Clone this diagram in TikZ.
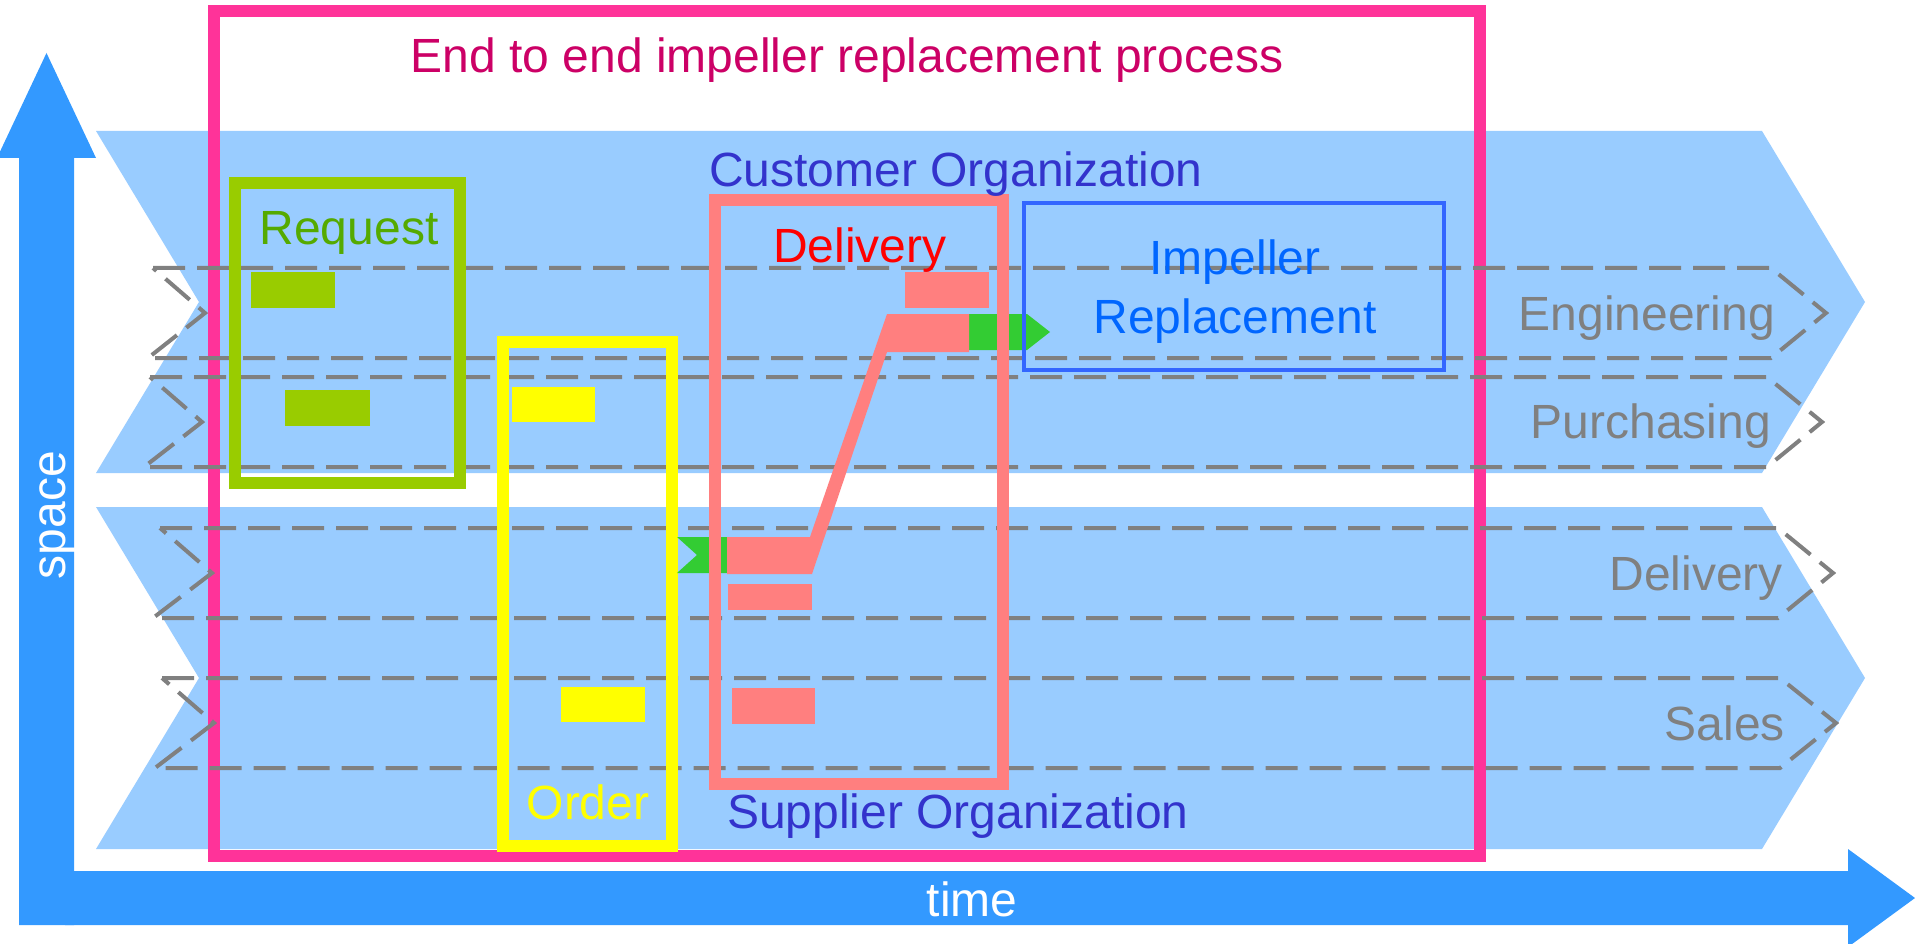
\documentclass[tikz,border=0pt]{standalone}
\usepackage{fontspec}
\setmainfont{Liberation Sans}
\definecolor{bandblue}{HTML}{99CCFF}
\definecolor{arrowblue}{HTML}{3399FF}
\definecolor{pinkframe}{HTML}{FF3399}
\definecolor{titlemag}{HTML}{CC0066}
\definecolor{reqgreen}{HTML}{99CC00}
\definecolor{reqtext}{HTML}{55AA00}
\definecolor{ordyellow}{HTML}{FFFF00}
\definecolor{salmon}{HTML}{FF7F7F}
\definecolor{flowgreen}{HTML}{33CC33}
\definecolor{boxblue}{HTML}{3366FF}
\definecolor{impblue}{HTML}{0066FF}
\definecolor{orgblue}{HTML}{3333CC}
\definecolor{lanegray}{HTML}{808080}
\begin{document}
\begin{tikzpicture}[x=1pt,y=-1pt,
  font=\fontsize{48}{58}\selectfont,
  every node/.style={inner sep=0pt, outer sep=0pt},
  band/.style={fill=bandblue},
  lane/.style={draw=lanegray, line width=4pt, dash pattern=on 32pt off 12pt},
  frame/.style={line width=12pt},
  lbl/.style={anchor=base}]
\useasboundingbox (0,0) rectangle (1915,944);
\fill[white] (0,0) rectangle (1915,944);
% organisation bands
\fill[band] (96,131) -- (1762,131) -- (1865,302) -- (1762,473) -- (96,473) -- (199,302) -- cycle;
\fill[band] (96,507) -- (1762,507) -- (1865,678) -- (1762,849) -- (96,849) -- (199,678) -- cycle;
% axes
\fill[arrowblue] (19,925) -- (19,158) -- (-3,158) -- (46.5,53) -- (96,158) -- (74,158) -- (74,925) -- cycle;
\fill[arrowblue] (65,871) -- (1848,871) -- (1848,849) -- (1915,898) -- (1848,947) -- (1848,925) -- (65,925) -- cycle;
% process frame
\draw[frame, pinkframe] (214,11) rectangle (1480,856);
% lanes
\draw[lane] (153,268) -- (1771,268) -- (1826,313) -- (1771,358) -- (148,358) -- (205,313) -- cycle;
\draw[lane] (150,377) -- (1767,377) -- (1822,422) -- (1767,467) -- (144,467) -- (202,422) -- cycle;
\draw[lane] (160,528) -- (1778,528) -- (1833,573) -- (1778,618) -- (153,618) -- (212,573) -- cycle;
\draw[lane] (162,678) -- (1780,678) -- (1836,723) -- (1780,768) -- (155,768) -- (214,723) -- cycle;
% request
\draw[frame, reqgreen] (235,183) rectangle (460,483);
\fill[reqgreen] (251,272) rectangle (335,308);
\fill[reqgreen] (285,390) rectangle (370,426);
% order
\draw[frame, ordyellow] (503,342) rectangle (672,846);
\fill[ordyellow] (512,387) rectangle (595,422);
\fill[ordyellow] (561,687) rectangle (645,722);
% green flow arrows
\fill[flowgreen] (677,537) -- (735,537) -- (735,573) -- (677,573) -- (697,555) -- cycle;
\fill[flowgreen] (933,314) -- (1027,314) -- (1050,332) -- (1027,350) -- (933,350) -- cycle;
% delivery
\draw[frame, salmon] (715,200) rectangle (1003,784);
\fill[salmon] (727,537) -- (810,537) -- (887,314) -- (969,314) -- (969,352) -- (887,352) -- (812,574) -- (727,574) -- cycle;
\fill[salmon] (905,272) rectangle (989,308);
\fill[salmon] (728,584) rectangle (812,610);
\fill[salmon] (732,688) rectangle (815,724);
% impeller replacement box
\draw[boxblue, line width=4.5pt] (1024,203) rectangle (1444,370);
% texts
\node[lbl, text=titlemag] (title) at (847,73) {End to end impeller replacement process};
\node[lbl, text=reqtext] (request) at (349,245) {Request};
\node[anchor=base west, text=orgblue] (customer) at (709,187) {Customer Organization};
\node[lbl, text=red] (delivery) at (860,262) {Delivery};
\node[lbl, text=impblue] (impeller) at (1235,275) {Impeller};
\node[lbl, text=impblue] (replacement) at (1235,333) {Replacement};
\node[lbl, text=ordyellow] (order) at (588,819) {Order};
\node[anchor=base west, text=orgblue] (supplier) at (727,828) {Supplier Organization};
\node[anchor=base east, text=lanegray] (eng) at (1775,330) {Engineering};
\node[anchor=base east, text=lanegray] (purch) at (1771,438) {Purchasing};
\node[anchor=base east, text=lanegray] (deliv) at (1783,590) {Delivery};
\node[anchor=base east, text=lanegray] (sales) at (1785,740) {Sales};
\node[lbl, text=white] (time) at (972,916) {time};
\node[lbl, text=white, rotate=90] (space) at (65,515) {space};
\end{tikzpicture}
\end{document}
